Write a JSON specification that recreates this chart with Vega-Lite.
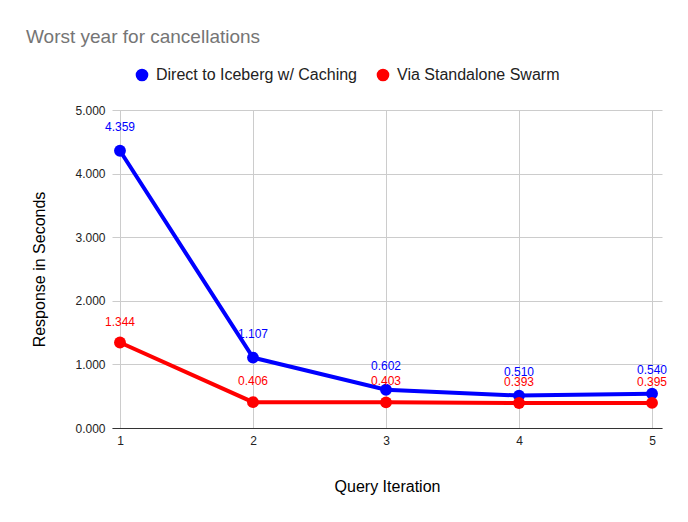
{
  "$schema": "https://vega.github.io/schema/vega-lite/v6.json",
  "autosize": {"type": "none"},
  "width": 550,
  "height": 318,
  "padding": {"left": 112, "top": 110, "right": 26, "bottom": 94},
  "background": "white",
  "config": {
    "font": "Liberation Sans",
    "view": {"stroke": null},
    "axis": {"labelFont": "Liberation Sans", "titleFont": "Liberation Sans"}
  },
  "title": {
    "text": "Worst year for cancellations",
    "anchor": "start",
    "frame": "group",
    "dx": -86,
    "offset": 20,
    "fontSize": 19,
    "font": "Liberation Sans",
    "fontWeight": "normal",
    "color": "#757575"
  },
  "data": {
    "values": [
      {"iter": 1, "series": "Direct to Iceberg w/ Caching", "value": 4.359},
      {"iter": 2, "series": "Direct to Iceberg w/ Caching", "value": 1.107},
      {"iter": 3, "series": "Direct to Iceberg w/ Caching", "value": 0.602},
      {"iter": 4, "series": "Direct to Iceberg w/ Caching", "value": 0.510},
      {"iter": 5, "series": "Direct to Iceberg w/ Caching", "value": 0.540},
      {"iter": 1, "series": "Via Standalone Swarm", "value": 1.344},
      {"iter": 2, "series": "Via Standalone Swarm", "value": 0.406},
      {"iter": 3, "series": "Via Standalone Swarm", "value": 0.403},
      {"iter": 4, "series": "Via Standalone Swarm", "value": 0.393},
      {"iter": 5, "series": "Via Standalone Swarm", "value": 0.395}
    ]
  },
  "encoding": {
    "x": {
      "field": "iter",
      "type": "quantitative",
      "scale": {"domain": [0.94, 5.075], "nice": false, "zero": false},
      "axis": {
        "title": "Query Iteration",
        "values": [1, 2, 3, 4, 5],
        "format": "d",
        "grid": true,
        "gridColor": "#cccccc",
        "domainColor": "#333333",
        "ticks": false,
        "labelPadding": 7,
        "labelFontSize": 12,
        "labelColor": "#222222",
        "titleFontSize": 16,
        "titleFontWeight": "normal",
        "titleColor": "#000000",
        "titlePadding": 32
      }
    },
    "y": {
      "field": "value",
      "type": "quantitative",
      "scale": {"domain": [0, 5], "nice": false},
      "axis": {
        "title": "Response in Seconds",
        "values": [0, 1, 2, 3, 4, 5],
        "format": ".3f",
        "grid": true,
        "gridColor": "#cccccc",
        "domain": false,
        "ticks": false,
        "labelPadding": 7,
        "labelFontSize": 12,
        "labelColor": "#222222",
        "titleFontSize": 16,
        "titleFontWeight": "normal",
        "titleColor": "#000000",
        "titlePadding": 27
      }
    },
    "color": {
      "field": "series",
      "type": "nominal",
      "scale": {"domain": ["Direct to Iceberg w/ Caching", "Via Standalone Swarm"], "range": ["#0000ff", "#ff0000"]},
      "legend": {
        "title": null,
        "orient": "none",
        "direction": "horizontal",
        "legendX": 22,
        "legendY": -43,
        "symbolType": "circle",
        "symbolSize": 160,
        "symbolStrokeWidth": 0,
        "labelFontSize": 16,
        "labelColor": "#222222",
        "labelFont": "Liberation Sans",
        "labelLimit": 400,
        "columnPadding": 18,
        "labelOffset": 6
      }
    }
  },
  "layer": [
    {"mark": {"type": "line", "strokeWidth": 4}},
    {"mark": {"type": "point", "filled": true, "size": 140, "opacity": 1}},
    {
      "transform": [{"filter": "datum.series === 'Direct to Iceberg w/ Caching'"}],
      "mark": {"type": "text", "dy": -24, "fontSize": 12, "font": "Liberation Sans"},
      "encoding": {"text": {"field": "value", "type": "quantitative", "format": ".3f"}}
    },
    {
      "transform": [{"filter": "datum.series === 'Via Standalone Swarm'"}],
      "mark": {"type": "text", "dy": -21, "fontSize": 12, "font": "Liberation Sans"},
      "encoding": {"text": {"field": "value", "type": "quantitative", "format": ".3f"}}
    }
  ]
}
